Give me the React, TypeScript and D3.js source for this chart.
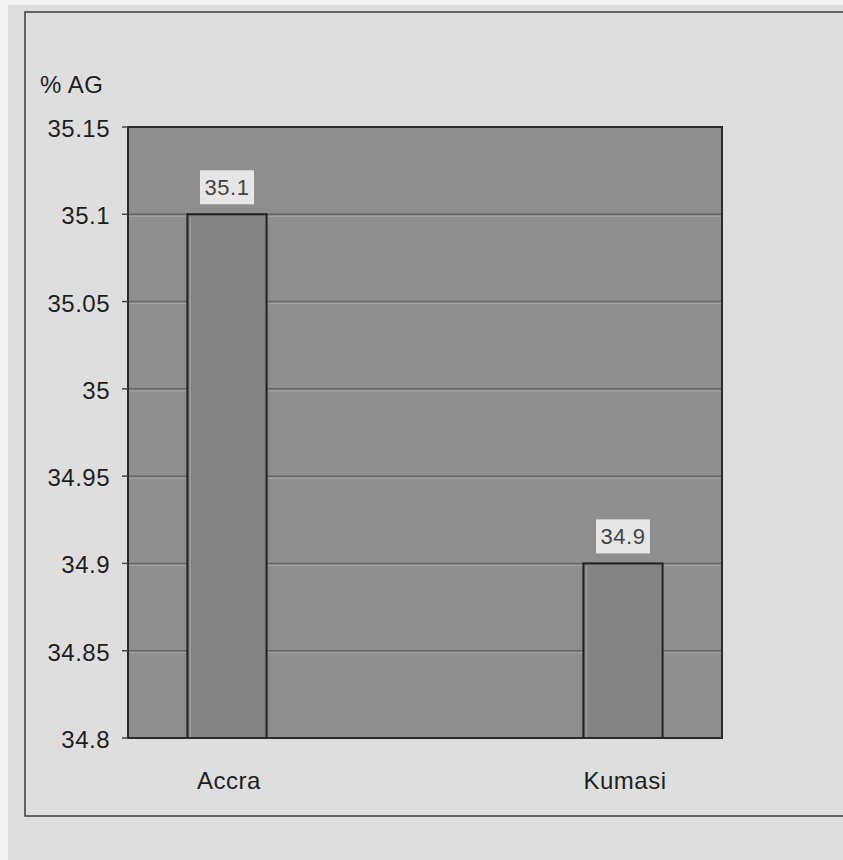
import * as d3 from 'd3'

const cities = ['Accra', 'Kumasi']
const agShares = [35.1, 34.9]
const yTicks = [34.8, 34.85, 34.9, 34.95, 35, 35.05, 35.1, 35.15]
const yLabel = '% AG'

const W = 843
const H = 860
const plot = { left: 128, right: 722, top: 127, bottom: 738 }

const App = () => {
  const x = d3.scalePoint<string>().domain(cities).range([plot.left, plot.right]).padding(0.25)
  const y = d3.scaleLinear().domain([34.8, 35.15]).range([plot.bottom, plot.top])
  const barW = x.step() * 0.2
  const font = '"Liberation Sans", Arial, sans-serif'

  return (
    <svg width={W} height={H} style={{ display: 'block', position: 'absolute', left: 0, top: 0 }}>
      <rect x={0} y={0} width={W} height={H} fill="#f2f2f2" />
      <rect x={8} y={5} width={W} height={H} fill="#dedede" />
      {/* outer frame, open on the right */}
      <path d={`M${W},12 H25 V816 H${W}`} fill="none" stroke="#3a3a3a" strokeWidth={1.5} />

      <text x={40} y={93} fontFamily={font} fontSize={24} fill="#1e1e1e" letterSpacing={0.5}>
        {yLabel}
      </text>

      {/* plot area */}
      <rect
        x={plot.left}
        y={plot.top}
        width={plot.right - plot.left}
        height={plot.bottom - plot.top}
        fill="#8e8e8e"
      />
      {yTicks.slice(1, -1).map((t) => (
        <g key={t}>
          <line x1={plot.left} x2={plot.right} y1={y(t)} y2={y(t)} stroke="#676767" strokeWidth={1.5} />
          <line x1={plot.left} x2={plot.right} y1={y(t) + 2} y2={y(t) + 2} stroke="#a4a4a4" strokeWidth={1} />
        </g>
      ))}

      {cities.map((c, i) => {
        const cx = x(c)!
        const top = y(agShares[i])
        return (
          <g key={c}>
            <rect
              x={cx - barW / 2}
              y={top}
              width={barW}
              height={plot.bottom - top}
              fill="#838383"
              stroke="#222"
              strokeWidth={2}
            />
            <line x1={cx - barW / 2 + 3} x2={cx - barW / 2 + 3} y1={top + 3} y2={plot.bottom} stroke="#a0a0a0" strokeWidth={1} />
            <rect x={cx - 27} y={top - 44} width={54} height={34} fill="#e6e6e6" />
            <text x={cx} y={top - 19} textAnchor="middle" fontFamily={font} fontSize={22} fill="#444" letterSpacing={0.5}>
              {agShares[i]}
            </text>
            <text x={cx + 2} y={789} textAnchor="middle" fontFamily={font} fontSize={24} fill="#1e1e1e" letterSpacing={0.5}>
              {c}
            </text>
          </g>
        )
      })}

      <rect
        x={plot.left}
        y={plot.top}
        width={plot.right - plot.left}
        height={plot.bottom - plot.top}
        fill="none"
        stroke="#2a2a2a"
        strokeWidth={2}
      />

      {yTicks.map((t) => (
        <g key={t}>
          <line x1={plot.left - 6} x2={plot.left} y1={y(t)} y2={y(t)} stroke="#444" strokeWidth={1.5} />
          <text x={110} y={y(t) + 10} textAnchor="end" fontFamily={font} fontSize={24} fill="#1e1e1e" letterSpacing={0.5}>
            {t}
          </text>
        </g>
      ))}
    </svg>
  )
}

export default App
